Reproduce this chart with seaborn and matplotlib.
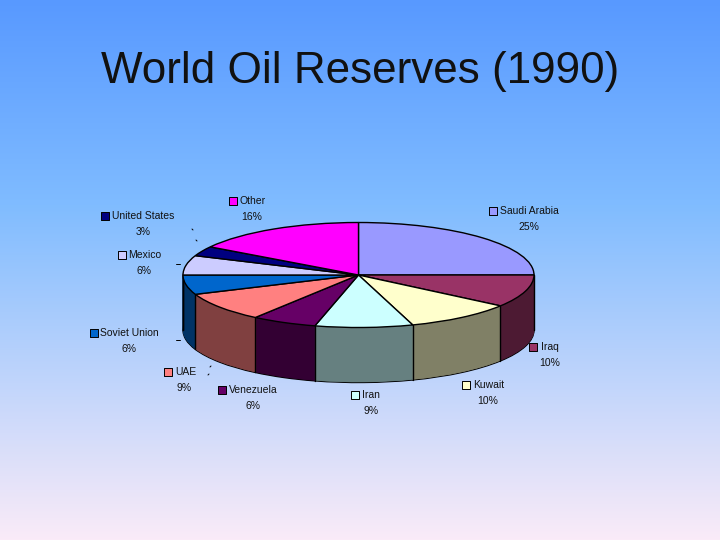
import numpy as np
import matplotlib
matplotlib.use("Agg")
import matplotlib.pyplot as plt
import seaborn as sns

sns.set_theme(style="white")
plt.rcParams['font.family'] = ['Liberation Sans', 'DejaVu Sans']

countries = ["Saudi Arabia", "Iraq", "Kuwait", "Iran", "Venezuela", "UAE",
             "Soviet Union", "Mexico", "United States", "Other"]
shares = [25, 10, 10, 9, 6, 9, 6, 6, 3, 16]
slice_colors = ["#9999ff", "#993366", "#ffffcc", "#ccffff", "#660066",
                "#ff8080", "#0066cc", "#ccccff", "#000080", "#ff00ff"]
title = "World Oil Reserves (1990)"

# legend square x, text x, text y, percent centre x
label_pos = [(493, 500, 211, 529), (533, 541, 347, 550), (466, 473, 385, 488),
             (355, 362, 395, 371), (222, 229, 390, 253), (168, 175, 372, 184),
             (94, 100, 333, 129), (122, 128, 255, 144), (105, 112, 216, 143),
             (233, 239, 201, 252)]

palette = sns.color_palette(slice_colors)
side_colors = [tuple(c * 0.5 for c in col) for col in palette]

fig = plt.figure(figsize=(7.2, 5.4), dpi=100)

# page background and text work in pixel coordinates
bg = fig.add_axes([0, 0, 1, 1])
stops = np.array([[88, 153, 255], [128, 188, 255], [250, 235, 248]]) / 255
yy = np.linspace(0, 1, 540)
grad = np.stack([np.interp(yy, [0, 0.38, 1], stops[:, i]) for i in range(3)], axis=1)
bg.imshow(grad[:, None, :], extent=[0, 720, 540, 0], aspect="auto")
bg.set_xlim(0, 720)
bg.set_ylim(540, 0)
bg.axis("off")

bg.text(360.5, 71, title, ha="center", va="center", fontsize=31.7, color="#111111")

# 3d pie: stacked pies squashed by the axes scale
cx, cy, rx, ry, depth = 358.5, 275, 175.5, 52.5, 55
ax = fig.add_axes([0, 0, 1, 1])
ax.patch.set_alpha(0)

ax.pie(shares, colors=side_colors, startangle=90, counterclock=False,
       center=(0, -depth / ry), wedgeprops=dict(edgecolor="black", linewidth=1))
for d in np.arange(depth - 0.5, 0, -0.5):
    layer, _ = ax.pie(shares, colors=side_colors, startangle=90, counterclock=False,
                      center=(0, -d / ry), wedgeprops=dict(linewidth=0.4))
    for w in layer:
        w.set_edgecolor(w.get_facecolor())

# side edges of the front slices
ends = np.radians(np.cumsum(shares) * 3.6)
for a in list(ends[1:7]):
    x, y = np.sin(a), np.cos(a)
    ax.plot([x, x], [y, y - depth / ry], color="black", lw=1, zorder=5)
for s in (-1, 1):
    ax.plot([s, s], [0, -depth / ry], color="black", lw=1, zorder=5)

top, _ = ax.pie(shares, colors=palette, startangle=90, counterclock=False,
                wedgeprops=dict(edgecolor="black", linewidth=1))
for w in top:
    w.set_zorder(6)

ax.set_aspect("auto")
ax.set_xlim(-cx / rx, (720 - cx) / rx)
ax.set_ylim((cy - 540) / ry, cy / ry)
ax.axis("off")

# labels
over = fig.add_axes([0, 0, 1, 1])
over.patch.set_alpha(0)
over.set_xlim(0, 720)
over.set_ylim(540, 0)
over.axis("off")
for name, share, col, (sx, tx, ty, px) in zip(countries, shares, palette, label_pos):
    over.scatter([sx], [ty], marker="s", s=26, color=col, edgecolor="black", linewidth=0.7)
    over.text(tx, ty, name, ha="left", va="center", fontsize=7.5, color="#111111")
    over.text(px, ty + 16, f"{share}%", ha="center", va="center", fontsize=7.5, color="#111111")

# leader line scraps
for x0, y0, x1, y1 in [(176, 264, 180, 264), (176, 340, 180, 340), (192, 229, 193, 230),
                       (196, 240, 197, 241), (210, 367, 211, 366), (208, 375, 209, 374)]:
    over.plot([x0, x1], [y0, y1], color="black", lw=0.7)

fig.savefig("out.png", dpi=100)
